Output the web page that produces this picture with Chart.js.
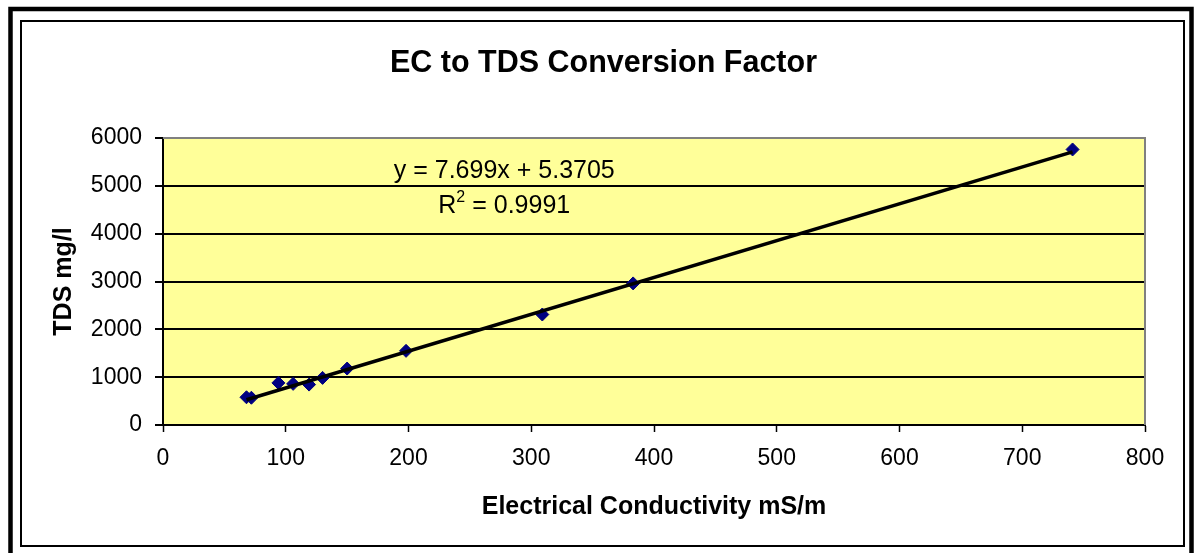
<!DOCTYPE html>
<html>
<head>
<meta charset="utf-8">
<title>EC to TDS Conversion Factor</title>
<script src="https://cdn.jsdelivr.net/npm/chart.js@4.4.1/dist/chart.umd.min.js"></script>
<style>
  html, body { margin: 0; padding: 0; background: #ffffff; overflow: hidden; }
  #wrap { width: 1197px; height: 553px; position: relative; }
  canvas { display: block; }
</style>
</head>
<body>
<div id="wrap"><canvas id="chart" width="1197" height="553"></canvas></div>
<script>
// Measured samples: electrical conductivity (mS/m) against total dissolved solids (mg/l)
const conductivity = [68, 72, 94, 106, 119, 130, 150, 198, 309, 383, 741];
const tdsValues    = [580, 570, 880, 860, 845, 985, 1180, 1550, 2310, 2960, 5760];

// Linear trendline fitted to the samples
const trendSlope = 7.699;
const trendIntercept = 5.3705;
const rSquared = 0.9991;

// Axis ranges and tick steps
const xRange = [0, 800];
const xStep = 100;
const yRange = [0, 6000];
const yStep = 1000;

const chartTitle = 'EC to TDS Conversion Factor';
const xTitle = 'Electrical Conductivity mS/m';
const yTitle = 'TDS mg/l';

const FONT = '"Liberation Sans", Arial, Helvetica, sans-serif';

const samplePoints = conductivity.map((x, i) => ({ x, y: tdsValues[i] }));
const xMin = Math.min(...conductivity);
const xMax = Math.max(...conductivity);
const trendPoints = [xMin, xMax].map(x => ({ x, y: trendSlope * x + trendIntercept }));

// Frame, plot background, plot border, title and the trendline equation
const decorations = {
  id: 'decorations',
  beforeDraw(chart) {
    const { ctx, chartArea: a, width, height } = chart;
    ctx.save();
    ctx.fillStyle = '#ffffff';
    ctx.fillRect(0, 0, width, height);
    ctx.strokeStyle = '#000000';
    ctx.lineWidth = 4.5;
    ctx.strokeRect(10.5, 9, 1181, 600);
    ctx.lineWidth = 2;
    ctx.strokeRect(21, 21, 1163, 525);
    ctx.fillStyle = '#FFFF99';
    ctx.fillRect(a.left, a.top, a.right - a.left, a.bottom - a.top);
    ctx.fillStyle = '#000000';
    ctx.font = 'bold 30.5px ' + FONT;
    ctx.textAlign = 'center';
    ctx.textBaseline = 'alphabetic';
    ctx.fillText(chartTitle, 603.5, 72);
    ctx.restore();
  },
  beforeDatasetsDraw(chart) {
    const { ctx, chartArea: a } = chart;
    ctx.save();
    ctx.strokeStyle = '#808080';
    ctx.lineWidth = 2;
    ctx.beginPath();
    ctx.moveTo(a.left, a.top);
    ctx.lineTo(a.right, a.top);
    ctx.lineTo(a.right, a.bottom);
    ctx.stroke();
    ctx.restore();
  },
  afterDatasetsDraw(chart, args, opts) {
    const { ctx, scales } = chart;
    const cx = scales.x.getPixelForValue(opts.anchorX);
    const base = scales.y.getPixelForValue(opts.anchorY);
    ctx.save();
    ctx.fillStyle = '#000000';
    ctx.textBaseline = 'alphabetic';
    ctx.font = '25px ' + FONT;
    ctx.textAlign = 'center';
    ctx.fillText('y = ' + trendSlope + 'x + ' + trendIntercept, cx, base);

    const line2 = base + 35;
    const rest = ' = ' + rSquared;
    ctx.textAlign = 'left';
    const wR = ctx.measureText('R').width;
    const wRest = ctx.measureText(rest).width;
    ctx.font = '16px ' + FONT;
    const wSup = ctx.measureText('2').width;
    let x = cx - (wR + wSup + wRest) / 2;
    ctx.font = '25px ' + FONT;
    ctx.fillText('R', x, line2);
    x += wR;
    ctx.font = '16px ' + FONT;
    ctx.fillText('2', x, line2 - 11);
    x += wSup;
    ctx.font = '25px ' + FONT;
    ctx.fillText(rest, x, line2);
    ctx.restore();
  }
};

new Chart(document.getElementById('chart'), {
  type: 'scatter',
  data: {
    datasets: [
      {
        label: 'Linear trend',
        data: trendPoints,
        showLine: true,
        borderColor: '#000000',
        borderWidth: 3.5,
        pointRadius: 0,
        pointHoverRadius: 0,
        fill: false,
        order: 0
      },
      {
        label: 'Samples',
        data: samplePoints,
        pointStyle: 'rectRot',
        pointRadius: 6.5,
        pointBackgroundColor: '#000080',
        pointBorderColor: '#000080',
        pointBorderWidth: 1,
        showLine: false,
        order: 1
      }
    ]
  },
  options: {
    responsive: false,
    animation: false,
    devicePixelRatio: 1,
    layout: { padding: { left: 0, right: 52, top: 138, bottom: 0 } },
    plugins: {
      legend: { display: false },
      tooltip: { enabled: false },
      title: { display: false },
      decorations: { anchorX: 278, anchorY: 5165 }
    },
    scales: {
      x: {
        type: 'linear',
        min: xRange[0],
        max: xRange[1],
        ticks: {
          stepSize: xStep,
          color: '#000000',
          font: { family: FONT, size: 23 },
          padding: 13,
          maxRotation: 0,
          callback: v => String(v)
        },
        grid: {
          drawOnChartArea: false,
          drawTicks: true,
          tickLength: 7,
          tickColor: '#000000',
          tickWidth: 1.5
        },
        border: { display: true, color: '#000000', width: 2 },
        title: {
          display: true,
          text: xTitle,
          color: '#000000',
          font: { family: FONT, size: 25, weight: 'bold' },
          padding: { top: 0, bottom: 31 }
        },
        afterFit(scale) { scale.height = 128; }
      },
      y: {
        type: 'linear',
        min: yRange[0],
        max: yRange[1],
        ticks: {
          stepSize: yStep,
          color: '#000000',
          font: { family: FONT, size: 23 },
          padding: 13,
          callback: v => String(v)
        },
        grid: {
          drawOnChartArea: true,
          drawTicks: true,
          tickLength: 8,
          color: ctx => (ctx.tick && ctx.tick.value === yRange[1]) ? 'rgba(0,0,0,0)' : '#000000',
          lineWidth: 2,
          tickColor: '#000000',
          tickWidth: 2
        },
        border: { display: true, color: '#000000', width: 2 },
        title: {
          display: true,
          text: yTitle,
          color: '#000000',
          font: { family: FONT, size: 25, weight: 'bold' },
          padding: { top: 49, bottom: 0 }
        },
        afterFit(scale) { scale.width = 163; }
      }
    }
  },
  plugins: [decorations]
});
</script>
</body>
</html>
